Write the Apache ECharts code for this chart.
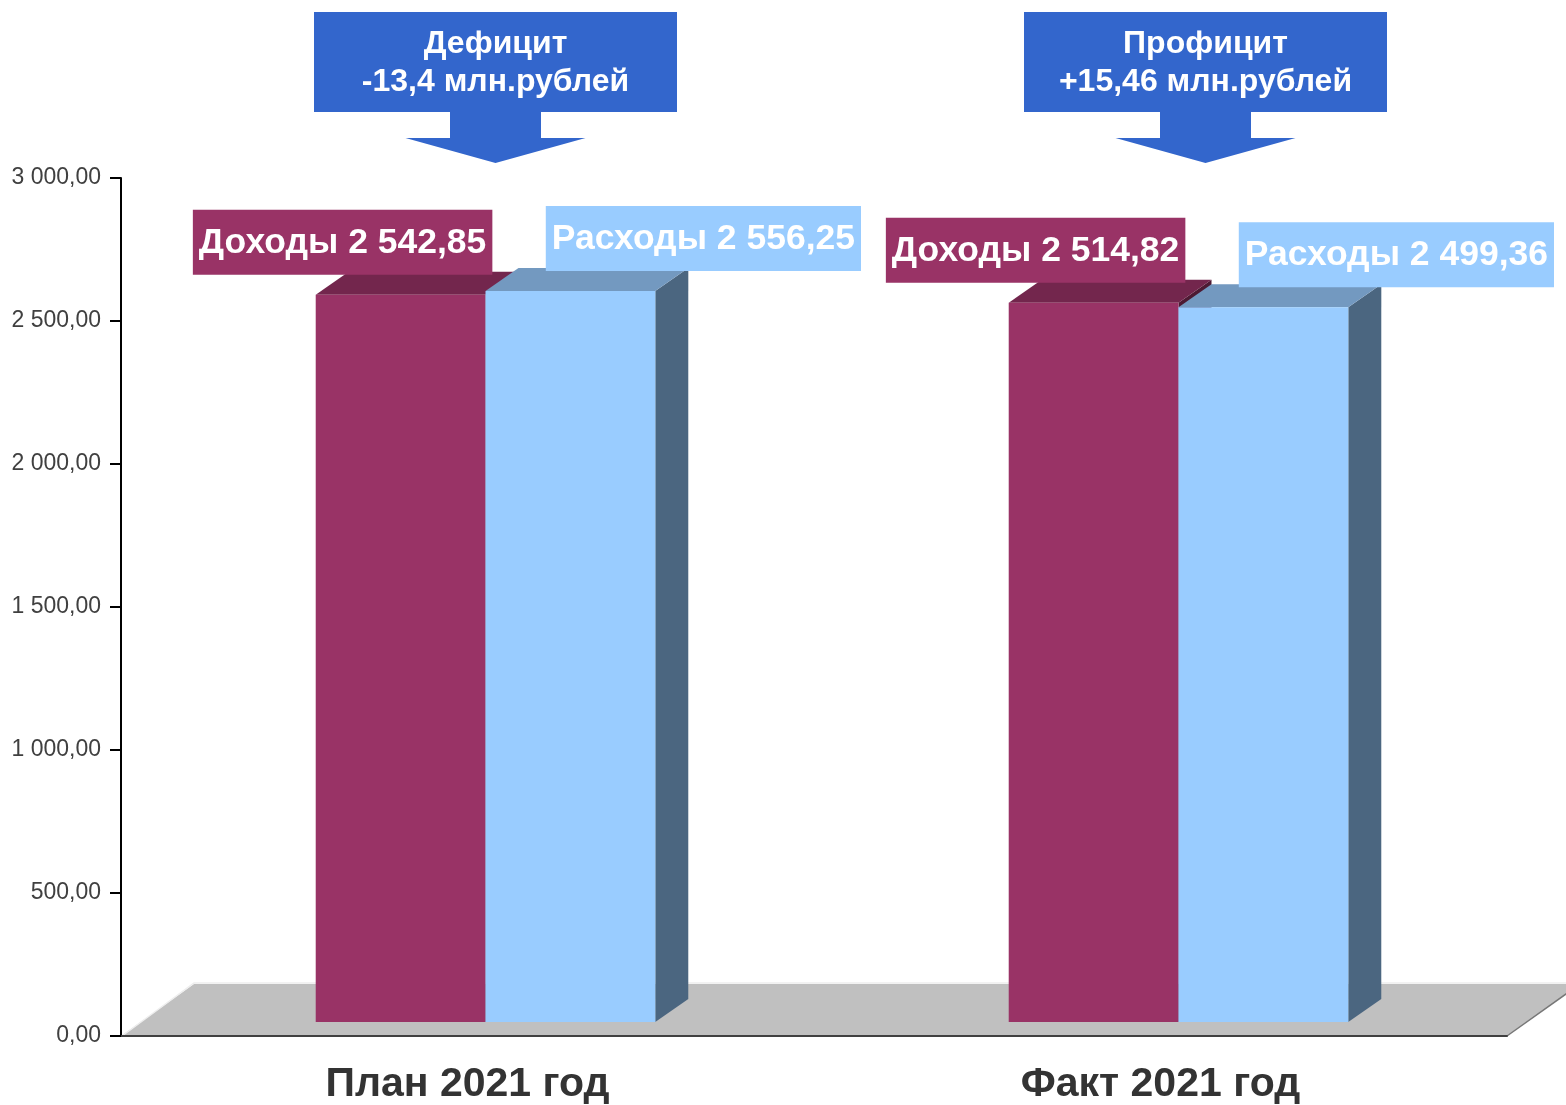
<!DOCTYPE html>
<html>
<head>
<meta charset="utf-8">
<title>Доходы и расходы 2021</title>
<script src="https://cdn.jsdelivr.net/npm/echarts@6/dist/echarts.min.js"></script>
<style>
  html, body { margin: 0; padding: 0; background: #fff; }
  #main { width: 1566px; height: 1105px; }
</style>
</head>
<body>
<div id="main"></div>
<script type="text/javascript">
// данные
var categories = ['План 2021 год', 'Факт 2021 год'];
var income = [2542.85, 2514.82];     // Доходы
var expense = [2556.25, 2499.36];    // Расходы
var balanceTitles = ['Дефицит', 'Профицит'];
var yTicks = [0, 500, 1000, 1500, 2000, 2500, 3000];

// 3D-смещения (пиксели)
var DEPTH_X = 33, DEPTH_Y = 23;     // глубина столбика
var FLOOR_X = 73, FLOOR_Y = 52;     // глубина "пола"
var SHIFT_X = 18, SHIFT_Y = 14;     // столбики стоят немного в глубине пола

function fmt(v) {
    var s = v.toFixed(2).split('.');
    return s[0].replace(/\B(?=(\d{3})+(?!\d))/g, ' ') + ',' + s[1];
}

function fmtDiff(d) {
    var s = d.toFixed(2).replace(/0+$/, '').replace(/\.$/, '');
    return (d > 0 ? '+' : '') + s.replace('.', ',');
}

var chart = echarts.init(document.getElementById('main'));

function floorRender(params, api) {
    var band = api.size([1, 0])[0];
    var a = api.coord([0, 0]);
    var b = api.coord([categories.length - 1, 0]);
    var left = a[0] - band / 2, right = b[0] + band / 2, y0 = a[1];
    return {
        type: 'group',
        children: [
            {
                type: 'polygon',
                shape: { points: [[left, y0], [left + FLOOR_X, y0 - FLOOR_Y], [right + FLOOR_X, y0 - FLOOR_Y], [right, y0]] },
                style: { fill: '#c0c0c0' }
            },
            {
                type: 'polyline',
                shape: { points: [[left + 1, y0], [left + FLOOR_X, y0 - FLOOR_Y - 1], [right + FLOOR_X, y0 - FLOOR_Y - 1]] },
                style: { stroke: '#eeeeee', lineWidth: 1.5, fill: null }
            },
            {
                type: 'line',
                shape: { x1: right, y1: y0, x2: right + FLOOR_X, y2: y0 - FLOOR_Y },
                style: { stroke: '#777777', lineWidth: 1.5 }
            }
        ]
    };
}

function makeBarRender(side, colors, labelName, labelDx, labelGap) {
    return function (params, api) {
        var c = api.value(0), v = api.value(1);
        var p0 = api.coord([c, 0]);
        var p1 = api.coord([c, v]);
        var band = api.size([1, 0])[0];
        var w = band * 0.245;
        var x0 = p0[0] + SHIFT_X + (side < 0 ? -w : 0);
        var x1 = x0 + w;
        var yb = p0[1] - SHIFT_Y;
        var yt = p1[1] - SHIFT_Y;
        var dx = DEPTH_X, dy = DEPTH_Y;
        return {
            type: 'group',
            children: [
                {
                    type: 'polygon',
                    shape: { points: [[x1, yt], [x1 + dx, yt - dy], [x1 + dx, yb - dy], [x1, yb]] },
                    style: { fill: colors[2] }
                },
                {
                    type: 'polygon',
                    shape: { points: [[x0, yt], [x0 + dx, yt - dy], [x1 + dx, yt - dy], [x1, yt]] },
                    style: { fill: colors[1] }
                },
                {
                    type: 'rect',
                    shape: { x: x0, y: yt, width: w, height: yb - yt },
                    style: { fill: colors[0] }
                },
                {
                    type: 'text',
                    style: {
                        text: labelName + ' ' + fmt(v),
                        x: (x0 + x1) / 2 + labelDx,
                        y: yt - labelGap,
                        align: 'center',
                        verticalAlign: 'bottom',
                        fill: '#ffffff',
                        font: 'bold 35.5px "Liberation Sans", Arial, sans-serif',
                        backgroundColor: colors[0],
                        padding: [15, 6, 14, 6]
                    }
                }
            ]
        };
    };
}

function arrow(cx, title, value) {
    var top = 12, boxB = 112, stemB = 138, tip = 163;
    var bw = 181.5, sw = 45.5, hw = 90;
    return {
        type: 'group',
        children: [
            {
                type: 'polygon',
                shape: {
                    points: [
                        [cx - bw, top], [cx + bw, top], [cx + bw, boxB], [cx + sw, boxB],
                        [cx + sw, stemB], [cx + hw, stemB], [cx, tip], [cx - hw, stemB],
                        [cx - sw, stemB], [cx - sw, boxB], [cx - bw, boxB]
                    ]
                },
                style: { fill: '#3366cc' }
            },
            {
                type: 'text',
                style: {
                    text: title + '\n' + value + ' млн.рублей',
                    x: cx,
                    y: (top + boxB) / 2 + 1,
                    align: 'center',
                    verticalAlign: 'middle',
                    fill: '#ffffff',
                    font: 'bold 32px "Liberation Sans", Arial, sans-serif',
                    lineHeight: 38
                }
            }
        ]
    };
}

var incomeData = income.map(function (v, i) { return [i, v]; });
var expenseData = expense.map(function (v, i) { return [i, v]; });

chart.setOption({
    animation: false,
    backgroundColor: '#ffffff',
    grid: { left: 121, right: 59, top: 178, bottom: 68, containLabel: false },
    xAxis: {
        type: 'category',
        data: categories,
        z: 5,
        axisLine: { lineStyle: { color: '#404040', width: 2 } },
        axisTick: { length: 11, lineStyle: { color: '#333333', width: 2 } },
        axisLabel: {
            margin: 28,
            color: '#333333',
            fontSize: 41,
            fontWeight: 'bold',
            fontFamily: '"Liberation Sans", Arial, sans-serif'
        }
    },
    yAxis: {
        type: 'value',
        min: yTicks[0],
        max: yTicks[yTicks.length - 1],
        interval: yTicks[1] - yTicks[0],
        z: 5,
        axisLine: { show: true, lineStyle: { color: '#000000', width: 2 } },
        axisTick: { show: true, length: 11, lineStyle: { color: '#000000', width: 2 } },
        splitLine: { show: false },
        axisLabel: {
            margin: 20,
            color: '#404040',
            fontSize: 23,
            fontFamily: '"Liberation Sans", Arial, sans-serif',
            formatter: fmt
        }
    },
    series: [
        {
            type: 'custom',
            name: 'floor',
            z: 1,
            silent: true,
            data: [[0, 0]],
            renderItem: floorRender
        },
        {
            type: 'custom',
            name: 'Доходы',
            z: 2,
            data: incomeData,
            renderItem: makeBarRender(-1, ['#993366', '#73264d', '#4d1a33'], 'Доходы', -58, 20)
        },
        {
            type: 'custom',
            name: 'Расходы',
            z: 3,
            data: expenseData,
            renderItem: makeBarRender(1, ['#99ccff', '#7399c0', '#4b6680'], 'Расходы', 133, 20)
        }
    ],
    graphic: [
        arrow(495.5, balanceTitles[0], fmtDiff(income[0] - expense[0])),
        arrow(1205.5, balanceTitles[1], fmtDiff(income[1] - expense[1]))
    ]
});
</script>
</body>
</html>
